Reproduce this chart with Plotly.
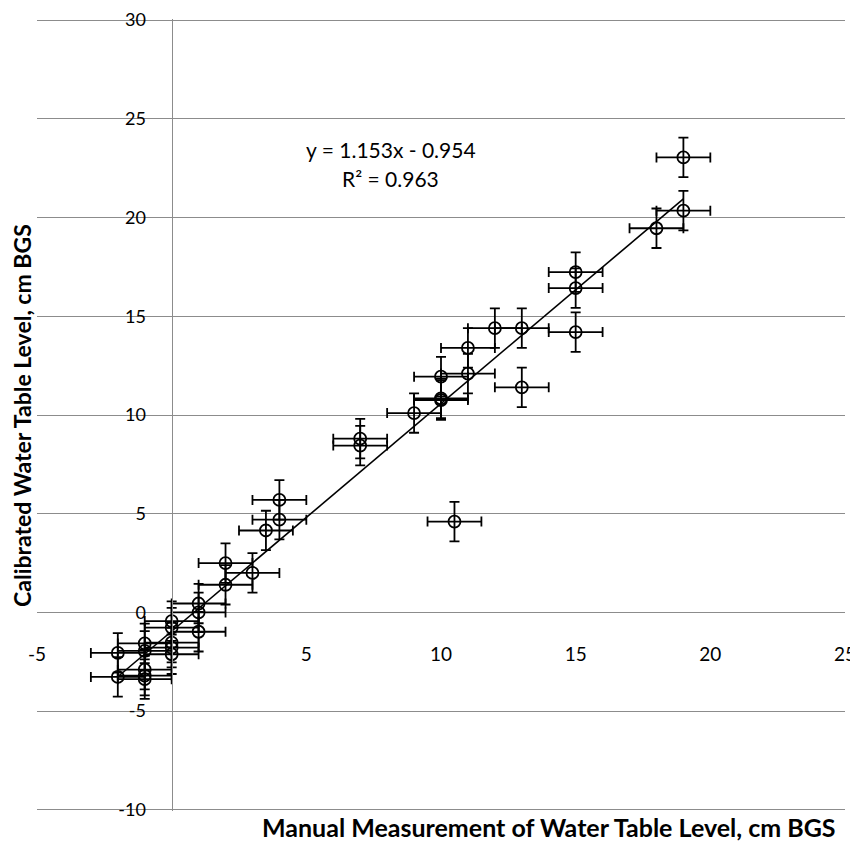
import plotly.graph_objects as go

# Data
manual_x = [-2, -2,
            -1, -1, -1, -1, -1,
            0, 0, 0, 0, 0,
            1, 1, 1,
            2, 2, 3, 3.5, 4, 4,
            7, 7, 9, 10, 10, 10, 10.5,
            11, 11, 12, 13, 13,
            15, 15, 15, 18, 19, 19]
calibrated_y = [-2.05, -3.27,
                -1.57, -1.95, -2.9, -3.2, -3.38,
                -0.44, -0.77, -1.53, -1.78, -2.12,
                0.45, 0.0, -0.98,
                2.5, 1.4, 2.0, 4.15, 4.7, 5.7,
                8.8, 8.45, 10.1, 11.94, 10.84, 10.76, 4.6,
                13.4, 12.1, 14.4, 14.4, 11.4,
                14.2, 17.24, 16.43, 19.46, 23.05, 20.35]
x_error = 1.0
y_error = 1.0

fit_slope = 1.153
fit_intercept = -0.954
fit_r2 = 0.963

x_tick_vals = [-5, 5, 10, 15, 20, 25]
x_tick_text = ["-5", "5", "10", "15", "20", "25"]
y_tick_vals = [-10, -5, 0, 5, 10, 15, 20, 25, 30]
y_tick_text = ["-10", "-5", "0", "5", "10", "15", "20", "25", "30"]

x_title = "Manual Measurement of Water Table Level, cm BGS"
y_title = "Calibrated Water Table Level, cm BGS"

FONT = "Lato"
GRID = "#8c8c8c"

fit_x = [min(manual_x), max(manual_x)]
fit_y = [fit_slope * v + fit_intercept for v in fit_x]

fig = go.Figure()

fig.add_trace(go.Scatter(
    x=fit_x, y=fit_y, mode="lines",
    line=dict(color="black", width=1.6),
    hoverinfo="skip", showlegend=False,
))

fig.add_trace(go.Scatter(
    x=manual_x, y=calibrated_y, mode="markers",
    marker=dict(symbol="circle-open", size=12, color="black",
                line=dict(color="black", width=1.8)),
    error_x=dict(type="constant", value=x_error, color="black",
                 thickness=1.8, width=5),
    error_y=dict(type="constant", value=y_error, color="black",
                 thickness=1.8, width=5),
    showlegend=False,
))

# page body adds an 8px offset, so the figure is placed 8px in from the window corner
fig.update_layout(
    width=850, height=851,
    margin=dict(l=29, r=13, t=11, b=48),
    paper_bgcolor="white", plot_bgcolor="white",
    font=dict(family=FONT, color="black", size=18),
    showlegend=False,
    xaxis=dict(
        range=[-5, 25], anchor="free", position=0.25, automargin=False,
        showgrid=False, zeroline=False, showline=False,
        tickmode="array", tickvals=x_tick_vals, ticktext=x_tick_text,
        ticks="", ticklabelstandoff=28, ticklabeloverflow="allow",
        tickfont=dict(family=FONT, size=19, color="black"),
    ),
    yaxis=dict(
        range=[-10.06, 30.06], anchor="free", position=5 / 30, automargin=False,
        showgrid=True, gridcolor=GRID, gridwidth=1.3,
        zeroline=False, showline=True, linecolor=GRID, linewidth=1.3,
        tickmode="array", tickvals=y_tick_vals, ticktext=y_tick_text,
        ticks="", ticklabelstandoff=22, ticklabeloverflow="allow",
        tickfont=dict(family=FONT, size=18, color="black"),
    ),
    annotations=[
        dict(text=f"y = {fit_slope}x - {abs(fit_intercept)}", xref="paper", yref="paper",
             x=0.438, y=0.8346, xanchor="center", yanchor="middle",
             showarrow=False, font=dict(family=FONT, size=21, color="black")),
        dict(text=f"R² = {fit_r2}", xref="paper", yref="paper",
             x=0.438, y=0.7992, xanchor="center", yanchor="middle",
             showarrow=False, font=dict(family=FONT, size=21, color="black")),
        dict(text=f"<b>{x_title}</b>", xref="paper", yref="paper",
             x=0.6337, y=-0.0202, xanchor="center", yanchor="middle",
             showarrow=False, font=dict(family=FONT, size=25, color="black")),
        dict(text=f"<b>{y_title}</b>", xref="paper", yref="paper",
             x=-0.0186, y=0.5, xanchor="center", yanchor="middle", textangle=-90,
             showarrow=False, font=dict(family=FONT, size=23, color="black")),
    ],
)

fig.write_html("out.html")
